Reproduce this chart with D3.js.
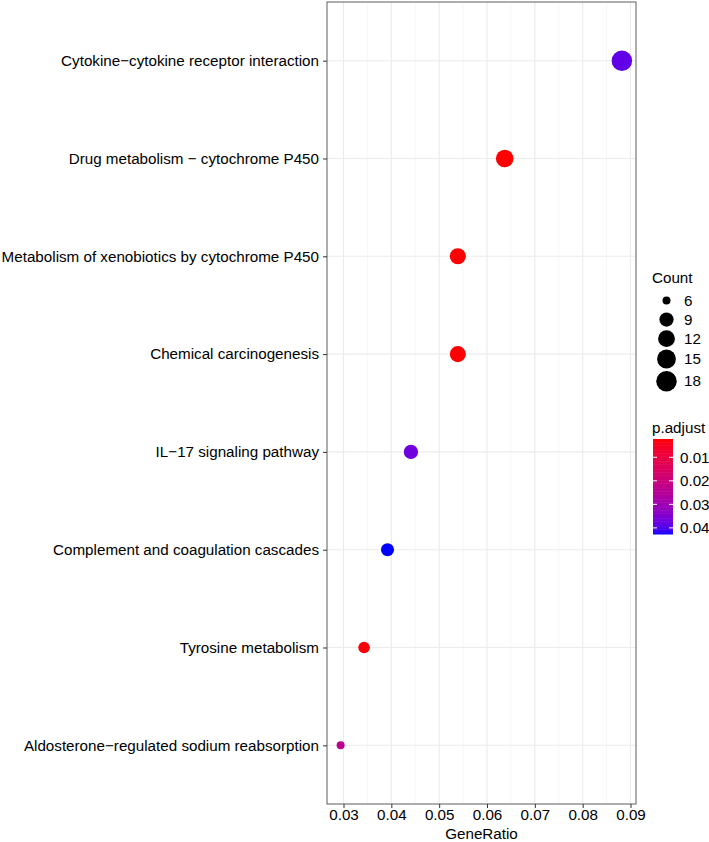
<!DOCTYPE html>
<html>
  <head>
    <meta charset="UTF-8">
    <script src="https://d3js.org/d3.v7.min.js"></script>
    <style>
        body { margin: 0; background: #fff; }
        * { font-family: "Liberation Sans", Arial, sans-serif; }
        .axisText { font-size: 15.2px; fill: #000; }
        .legendTitle { font-size: 15.2px; fill: #000; }
    </style>
  </head>
  <body>
    <script>
        // pathway terms, top to bottom
        const terms = [
            'Cytokine\u2212cytokine receptor interaction',
            'Drug metabolism \u2212 cytochrome P450',
            'Metabolism of xenobiotics by cytochrome P450',
            'Chemical carcinogenesis',
            'IL\u221217 signaling pathway',
            'Complement and coagulation cascades',
            'Tyrosine metabolism',
            'Aldosterone\u2212regulated sodium reabsorption'
        ]
        const geneRatio = [0.0882, 0.0637, 0.0539, 0.0539, 0.0441, 0.0392, 0.0343, 0.0294]
        const counts = [18, 13, 11, 11, 9, 8, 7, 6]
        const pAdjust = [0.0385, 0.0022, 0.0024, 0.0024, 0.037, 0.0426, 0.0028, 0.024]

        const xTicks = [0.03, 0.04, 0.05, 0.06, 0.07, 0.08, 0.09]
        const countBreaks = [6, 9, 12, 15, 18]
        const pBreaks = [0.01, 0.02, 0.03, 0.04]

        const W = 709, H = 842
        const panel = {left: 327, right: 636, top: 2, bottom: 804}

        const svg = d3.select('body').append('svg')
            .attr('width', W).attr('height', H)

        let x = d3.scaleLinear()
            .domain([0.02655, 0.09115])
            .range([panel.left, panel.right])

        let y = d3.scalePoint()
            .domain(terms)
            .range([panel.top, panel.bottom])
            .padding(0.6)

        let size = v => {
            // ggplot area_pal: diameter = min + (max - min) * sqrt(rescaled)
            let t = (v - d3.min(counts)) / (d3.max(counts) - d3.min(counts))
            return 8 + (20.5 - 8) * Math.sqrt(t)
        }

        let pExtent = d3.extent(pAdjust)
        let color = d3.scaleLinear()
            .domain(pExtent)
            .range(['red', 'blue'])
            .interpolate(d3.interpolateLab)

        // grid
        let minorTicks = d3.range(0.025, 0.095, 0.01).map(d => +d.toFixed(3))
        let g = svg.append('g')
        g.selectAll('.minor').data(minorTicks.filter(d => x(d) > panel.left && x(d) < panel.right))
            .enter().append('line')
            .attr('x1', d => x(d)).attr('x2', d => x(d))
            .attr('y1', panel.top).attr('y2', panel.bottom)
            .attr('stroke', '#f2f2f2').attr('stroke-width', 0.6)
        g.selectAll('.major').data(xTicks)
            .enter().append('line')
            .attr('x1', d => x(d)).attr('x2', d => x(d))
            .attr('y1', panel.top).attr('y2', panel.bottom)
            .attr('stroke', '#ebebeb').attr('stroke-width', 1.1)
        g.selectAll('.hmajor').data(terms)
            .enter().append('line')
            .attr('x1', panel.left).attr('x2', panel.right)
            .attr('y1', d => y(d)).attr('y2', d => y(d))
            .attr('stroke', '#ebebeb').attr('stroke-width', 1.1)

        // points
        svg.append('g').selectAll('circle')
            .data(terms)
            .enter().append('circle')
            .attr('cx', (d, i) => x(geneRatio[i]))
            .attr('cy', d => y(d))
            .attr('r', (d, i) => size(counts[i]) / 2)
            .attr('fill', (d, i) => color(pAdjust[i]))

        // panel border
        svg.append('rect')
            .attr('x', panel.left).attr('y', panel.top)
            .attr('width', panel.right - panel.left).attr('height', panel.bottom - panel.top)
            .attr('fill', 'none').attr('stroke', '#777').attr('stroke-width', 1.2)

        // axes
        let xAxis = svg.append('g')
            .attr('transform', `translate(0, ${panel.bottom})`)
            .call(d3.axisBottom(x).tickValues(xTicks).tickSize(4).tickPadding(1.5).tickFormat(d3.format('.2f')))
        xAxis.select('.domain').remove()
        xAxis.selectAll('line').attr('stroke', '#333')
        xAxis.selectAll('text').attr('class', 'axisText').attr('font-size', null).attr('fill', null)

        let yAxis = svg.append('g')
            .attr('transform', `translate(${panel.left}, 0)`)
            .call(d3.axisLeft(y).tickSize(4).tickPadding(4))
        yAxis.select('.domain').remove()
        yAxis.selectAll('line').attr('stroke', '#333')
        yAxis.selectAll('text').attr('class', 'axisText').attr('font-size', null).attr('fill', null)

        svg.append('text')
            .attr('class', 'axisText')
            .attr('x', (panel.left + panel.right) / 2)
            .attr('y', 838.5)
            .attr('text-anchor', 'middle')
            .text('GeneRatio')

        // size legend
        let leg = svg.append('g')
        leg.append('text').attr('class', 'legendTitle')
            .attr('x', 652).attr('y', 283).text('Count')
        let keyTop = 291
        countBreaks.forEach(c => {
            let d = size(c)
            let h = Math.max(19, d + 2.5)
            let cy = keyTop + h / 2
            leg.append('circle').attr('cx', 666.5).attr('cy', cy).attr('r', d / 2).attr('fill', '#000')
            leg.append('text').attr('class', 'axisText')
                .attr('x', 684).attr('y', cy).attr('dy', '0.35em').text(c)
            keyTop += h
        })

        // colour bar
        let bar = {x: 653, y: 439, w: 20, h: 95}
        let pY = d3.scaleLinear().domain(pExtent).range([bar.y, bar.y + bar.h])
        leg.append('text').attr('class', 'legendTitle')
            .attr('x', 652).attr('y', 433).text('p.adjust')
        let nbin = 60
        let bins = d3.range(nbin).map(i => pExtent[0] + (pExtent[1] - pExtent[0]) * (i + 0.5) / nbin)
        leg.selectAll('.bin').data(bins)
            .enter().append('rect')
            .attr('x', bar.x).attr('width', bar.w)
            .attr('y', (d, i) => bar.y + bar.h * i / nbin)
            .attr('height', bar.h / nbin + 0.5)
            .attr('fill', d => color(d))
        pBreaks.forEach(p => {
            let yy = pY(p)
            leg.append('line').attr('x1', bar.x).attr('x2', bar.x + 4).attr('y1', yy).attr('y2', yy)
                .attr('stroke', '#fff').attr('stroke-width', 1)
            leg.append('line').attr('x1', bar.x + bar.w - 4).attr('x2', bar.x + bar.w).attr('y1', yy).attr('y2', yy)
                .attr('stroke', '#fff').attr('stroke-width', 1)
            leg.append('text').attr('class', 'axisText')
                .attr('x', 680).attr('y', yy).attr('dy', '0.35em').text(p.toFixed(2))
        })
    </script>
  </body>
</html>
